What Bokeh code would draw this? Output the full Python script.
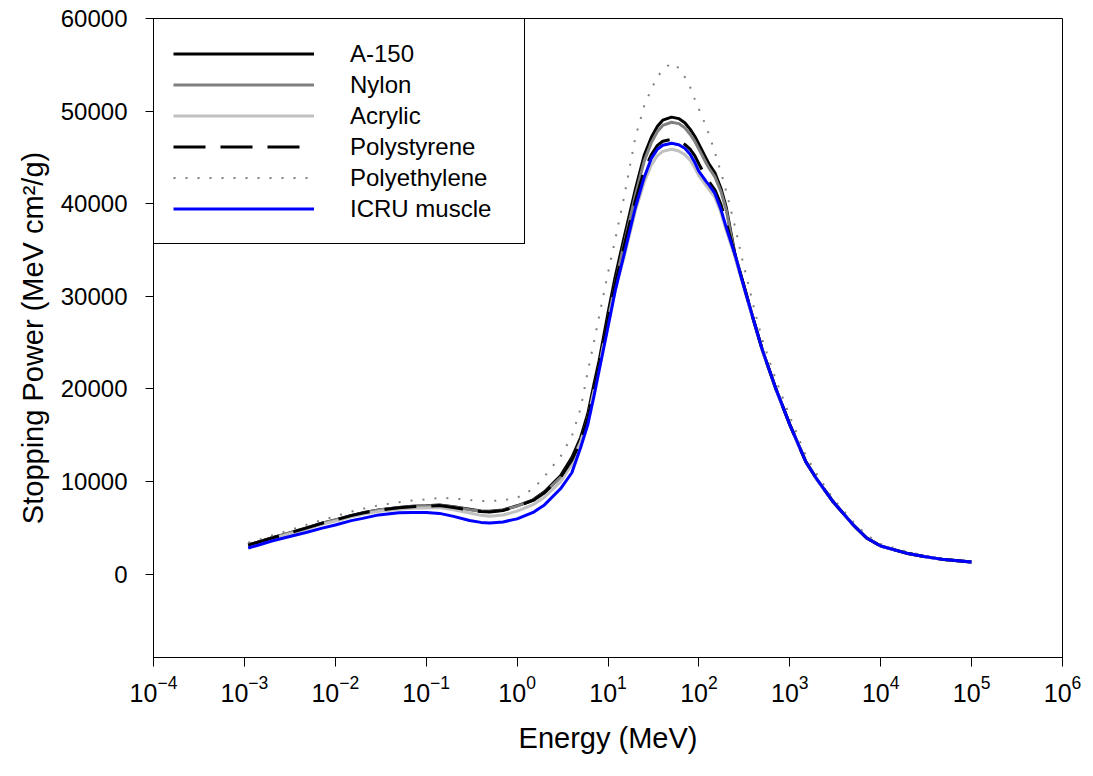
from bokeh.plotting import figure
from bokeh.models import (Range1d, FixedTicker, Legend, LegendItem,
                          ColumnDataSource, LogTickFormatter)
from bokeh.embed import file_html
from bokeh.resources import INLINE

FONT = "Liberation Sans"

# ---- data ----
energy = [1.1e-3, 1.5e-3, 2e-3, 3e-3, 5e-3, 7e-3, 1e-2, 1.5e-2, 2e-2, 3e-2,
          5e-2, 7e-2, 0.1, 0.14, 0.2, 0.3, 0.4, 0.5, 0.7, 1,
          1.5, 2, 3, 4, 5, 6, 7, 8, 10, 12,
          15, 20, 25, 30, 35, 40, 50, 60, 70, 80,
          90, 100, 120, 130, 150, 175, 200, 250, 300, 400,
          500, 700, 1000, 1500, 2000, 3000, 5000, 7000, 1e4, 2e4,
          3e4, 5e4, 1e5]

a150 = [3150, 3520, 3900, 4390, 5040, 5480, 5860, 6340, 6620, 6940,
        7210, 7320, 7380, 7480, 7270, 7000, 6830, 6780, 6940, 7380,
        8030, 8890, 10630, 12580, 14750, 17350, 20500, 23100, 28200, 32100,
        36330, 41540, 45230, 47180, 48370, 49020, 49350, 49190, 48750, 48050,
        47290, 46420, 44900, 44250, 43330, 41650, 39590, 34490, 31780, 27440,
        24190, 20070, 16160, 12150, 10200, 7810, 5310, 3900, 3040, 2220,
        1900, 1570, 1300]
nylon = [3150, 3520, 3900, 4390, 5030, 5470, 5850, 6320, 6600, 6920,
         7190, 7300, 7350, 7440, 7240, 6960, 6800, 6750, 6910, 7340,
         7970, 8780, 10420, 12250, 14300, 16750, 19770, 22350, 27420, 31320,
         35600, 40910, 44600, 46600, 47800, 48450, 48800, 48650, 48200, 47500,
         46750, 45900, 44400, 43800, 42900, 41300, 39300, 34300, 31650, 27350,
         24130, 20030, 16130, 12130, 10190, 7800, 5300, 3900, 3040, 2220,
         1900, 1570, 1300]
acrylic = [3050, 3420, 3800, 4290, 4930, 5360, 5730, 6200, 6470, 6780,
           7020, 7110, 7150, 7200, 6960, 6600, 6350, 6250, 6380, 6800,
           7500, 8300, 9950, 11850, 14200, 16800, 19700, 22300, 27000, 30800,
           34200, 39200, 42300, 44200, 45200, 45650, 45880, 45700, 45300, 44700,
           43900, 43000, 41950, 41500, 40700, 39000, 37100, 34200, 31500, 27300,
           24100, 20000, 16100, 12100, 10180, 7800, 5300, 3900, 3030, 2210,
           1890, 1560, 1290]
polystyrene = [3150, 3520, 3900, 4390, 5030, 5470, 5850, 6320, 6600, 6910,
               7180, 7290, 7340, 7420, 7200, 6920, 6760, 6720, 6880, 7320,
               7960, 8800, 10450, 12300, 14350, 16850, 19900, 22500, 27500, 31300,
               35400, 40300, 43600, 45300, 46300, 46750, 46960, 46800, 46400, 45900,
               45200, 44300, 42850, 42350, 41500, 39900, 37900, 34500, 31750, 27420,
               24180, 20060, 16150, 12140, 10200, 7810, 5310, 3900, 3040, 2220,
               1900, 1570, 1300]
polyethylene = [3400, 3780, 4170, 4700, 5370, 5820, 6250, 6760, 7060, 7430,
                7760, 7950, 8080, 8240, 8180, 8000, 7900, 7880, 7980, 8240,
                9200, 10550, 12700, 14900, 17900, 21910, 25050, 27870, 32540, 36120,
                40670, 47180, 50540, 52390, 53690, 54450, 55200, 54660, 53690, 52600,
                51300, 50220, 48370, 47400, 45550, 43380, 41320, 37500, 34000, 28900,
                25270, 21040, 17030, 12800, 10740, 8130, 5640, 4230, 3250, 2390,
                2010, 1630, 1360]
icru_muscle = [2820, 3200, 3580, 4010, 4560, 4940, 5310, 5780, 6020, 6400,
               6620, 6670, 6670, 6560, 6240, 5800, 5590, 5530, 5640, 5970,
               6670, 7480, 9220, 10950, 13670, 16160, 19200, 22020, 26680, 30590,
               34490, 39590, 42840, 44900, 45880, 46310, 46530, 46370, 45990, 45340,
               44470, 43490, 42410, 41980, 41110, 39370, 37420, 34490, 31670, 27400,
               24170, 20060, 16150, 12140, 10200, 7810, 5310, 3900, 3040, 2220,
               1900, 1570, 1300]

series_names = ["A-150", "Nylon", "Acrylic", "Polystyrene", "Polyethylene", "ICRU muscle"]
x_ticks = [1e-4, 1e-3, 1e-2, 1e-1, 1e0, 1e1, 1e2, 1e3, 1e4, 1e5, 1e6]
y_ticks = [0, 10000, 20000, 30000, 40000, 50000, 60000]
x_min, x_max = 1e-4, 1e6
y_min, y_max = -9000, 60000

source = ColumnDataSource(dict(energy=energy, a150=a150, nylon=nylon, acrylic=acrylic,
                               polystyrene=polystyrene, polyethylene=polyethylene,
                               icru=icru_muscle))

p = figure(width=1085, height=767, x_axis_type="log",
           x_range=Range1d(x_min, x_max), y_range=Range1d(y_min, y_max),
           output_backend="svg", toolbar_location=None,
           min_border_left=153, min_border_right=23, min_border_top=18,
           min_border_bottom=110)
p.background_fill_color = "white"
p.border_fill_color = "white"
p.grid.visible = False
p.outline_line_color = "black"
p.outline_line_width = 1

styles = [
    dict(y="a150", line_color="black", line_width=3),
    dict(y="nylon", line_color="#808080", line_width=3),
    dict(y="acrylic", line_color="#c0c0c0", line_width=3),
    dict(y="polystyrene", line_color="black", line_width=3, line_dash="32 15"),
    dict(y="polyethylene", line_color="#808080", line_width=2, line_dash="2 10"),
    dict(y="icru", line_color="#0000ff", line_width=3),
]
renderers = []
for st in styles:
    col = st.pop("y")
    renderers.append(p.line("energy", col, source=source, line_join="round", **st))

# x axis
xa = p.xaxis[0]
xa.ticker = FixedTicker(ticks=x_ticks, minor_ticks=[])
xa.formatter = LogTickFormatter()
xa.major_label_text_font = FONT
xa.major_label_text_font_size = "25px"
xa.major_label_text_color = "black"
xa.major_label_standoff = 8
xa.major_tick_in = 0
xa.major_tick_out = 9
xa.minor_tick_line_color = None
xa.axis_line_color = "black"
xa.major_tick_line_color = "black"
xa.axis_label = "Energy (MeV)"
xa.axis_label_text_font = FONT
xa.axis_label_text_font_size = "29px"
xa.axis_label_text_font_style = "normal"
xa.axis_label_text_color = "black"
xa.axis_label_standoff = 17

# y axis
ya = p.yaxis[0]
ya.ticker = FixedTicker(ticks=y_ticks, minor_ticks=[])
ya.major_label_text_font = FONT
ya.major_label_text_font_size = "24px"
ya.major_label_text_color = "black"
ya.major_label_standoff = 18
ya.major_tick_in = 0
ya.major_tick_out = 8
ya.minor_tick_line_color = None
ya.axis_line_color = "black"
ya.major_tick_line_color = "black"
ya.axis_label = "Stopping Power (MeV cm\u00b2/g)"
ya.axis_label_text_font = FONT
ya.axis_label_text_font_size = "29px"
ya.axis_label_text_font_style = "normal"
ya.axis_label_text_color = "black"
ya.axis_label_standoff = 9

items = [LegendItem(label=n, renderers=[r]) for n, r in zip(series_names, renderers)]
legend = Legend(items=items, location="top_left", margin=0, padding=19, spacing=0,
                glyph_width=141, glyph_height=31, label_standoff=36, label_width=155,
                label_height=31, label_text_font=FONT, label_text_font_size="24px",
                label_text_baseline="middle", label_text_color="black",
                border_line_color="black", border_line_width=1, border_line_alpha=1,
                background_fill_color="white", background_fill_alpha=1)
p.add_layout(legend)

open("out.html", "w").write(file_html(p, INLINE))
